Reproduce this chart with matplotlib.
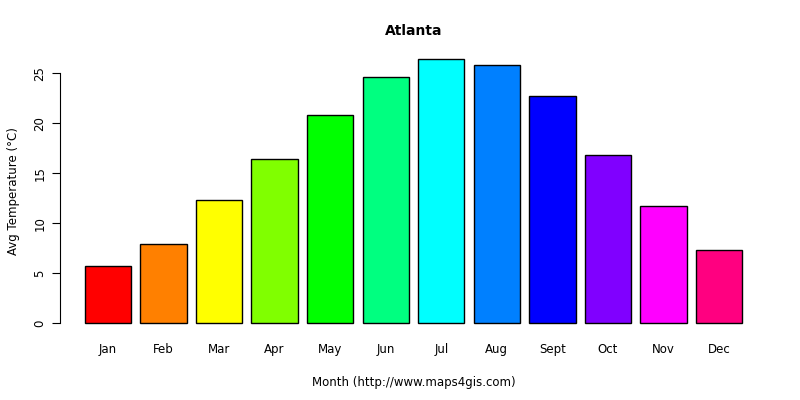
import matplotlib
matplotlib.use("Agg")
import matplotlib.pyplot as plt

months = ["Jan","Feb","Mar","Apr","May","Jun","Jul","Aug","Sept","Oct","Nov","Dec"]
temps = [5.7, 7.9, 12.3, 16.4, 20.8, 24.6, 26.4, 25.8, 22.7, 16.8, 11.7, 7.3]
colors = ["#FF0000","#FF8000","#FFFF00","#80FF00","#00FF00","#00FF80",
          "#00FFFF","#0080FF","#0000FF","#8000FF","#FF00FF","#FF0080"]

fig = plt.figure(figsize=(8,4), dpi=100)
ax = fig.add_axes([58.5/800, 66.4/400, (768.6-58.5)/800, (333.6-48.5)/400])
x = [0.7 + 1.2*i for i in range(len(months))]
ax.bar(x, temps, width=1.0, color=colors, edgecolor="black", linewidth=1)
ax.set_xlim(-0.368, 14.968)
ax.set_ylim(-1.056, 27.46)
for s in ["top","right","bottom"]:
    ax.spines[s].set_visible(False)
ax.spines["left"].set_bounds(0, 25)
ax.spines["left"].set_position(("data", -0.34))
ax.set_yticks([0,5,10,15,20,25])
ax.set_yticklabels(["0","5","10","15","20","25"], rotation=90, va="center", fontsize=8.5)
ax.set_xticks(x)
ax.set_xticklabels(months, fontsize=8.5)
ax.tick_params(axis="x", length=0, pad=7)
ax.tick_params(axis="y", length=6)
ax.set_title("Atlanta", fontweight="bold", fontsize=10, pad=10)
ax.set_xlabel("Month (http://www.maps4gis.com)", fontsize=8.5, labelpad=14)
ax.set_ylabel("Avg Temperature (°C)", fontsize=8.5, labelpad=10)
fig.savefig("out.png", dpi=100)
